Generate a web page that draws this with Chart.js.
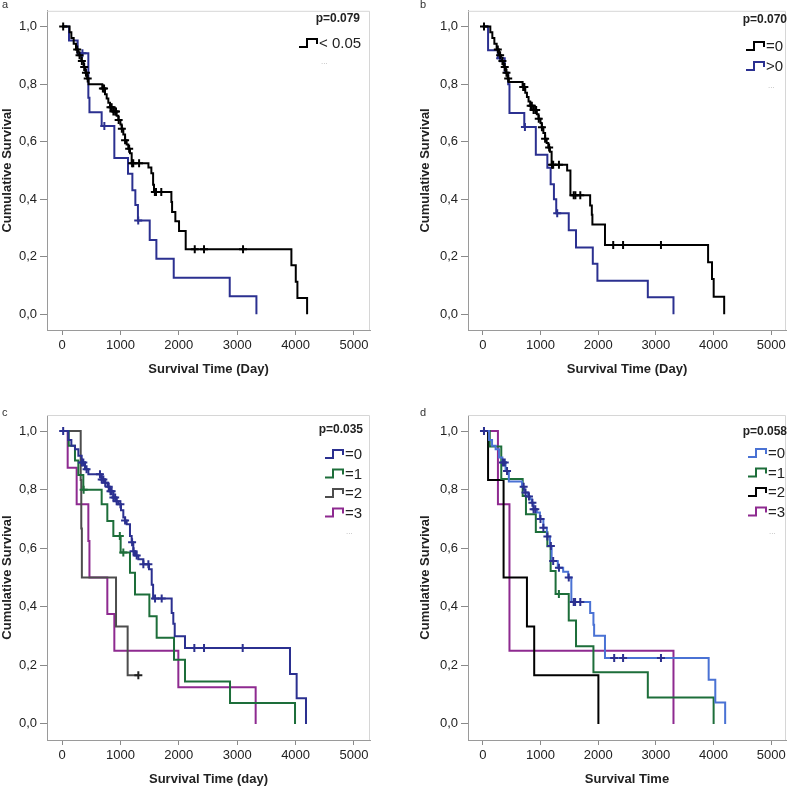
<!DOCTYPE html>
<html>
<head>
<meta charset="utf-8">
<script src="https://cdn.jsdelivr.net/npm/chart.js@4.4.1/dist/chart.umd.min.js"></script>
<style>
  body { margin: 0; background: #fff; width: 792px; height: 787px; position: relative; overflow: hidden; }
  canvas { position: absolute; }
</style>
</head>
<body>
<canvas id="chartA" width="396" height="390" style="left:0;top:0"></canvas>
<canvas id="chartB" width="396" height="390" style="left:396px;top:0"></canvas>
<canvas id="chartC" width="396" height="397" style="left:0;top:390px"></canvas>
<canvas id="chartD" width="396" height="397" style="left:396px;top:390px"></canvas>
<script>
// axis ticks
const xTicks = [0, 1000, 2000, 3000, 4000, 5000];
const yTicks = [0, 0.2, 0.4, 0.6, 0.8, 1.0];
const pValues = ['p=0.079', 'p=0.070', 'p=0.035', 'p=0.058'];

// panel a : event times (T), survival after event (S), censored times (C)
const aLabels = ['< 0.05'];
const aBlackT = [130, 160, 200, 240, 280, 330, 370, 400, 430, 455, 690, 736, 765, 793, 822, 880, 936, 965, 1000, 1022, 1050, 1080, 1107, 1135, 1164, 1193, 1480, 1530, 1560, 1575, 1873, 1885, 1941, 2004, 2118, 3928, 4003, 4031, 4197];
const aBlackS = [0.98, 0.96, 0.94, 0.92, 0.90, 0.88, 0.86, 0.84, 0.82, 0.80, 0.785, 0.765, 0.75, 0.735, 0.72, 0.705, 0.69, 0.675, 0.66, 0.645, 0.625, 0.605, 0.59, 0.575, 0.56, 0.525, 0.51, 0.49, 0.45, 0.425, 0.39, 0.355, 0.323, 0.289, 0.226, 0.17, 0.113, 0.056, 0];
const aBlackC = [20, 260, 300, 340, 380, 410, 440, 700, 720, 830, 850, 880, 910, 925, 970, 1025, 1080, 1150, 1200, 1220, 1320, 1590, 1610, 1700, 2273, 2432, 3100];
const aBlueT = [120, 268, 451, 470, 679, 896, 1130, 1205, 1256, 1300, 1502, 1616, 1913, 2872, 3329];
const aBlueS = [0.952, 0.907, 0.753, 0.702, 0.654, 0.543, 0.488, 0.431, 0.38, 0.326, 0.258, 0.193, 0.127, 0.062, 0];
const aBlueC = [350, 725, 1305];

// panel b
const bLabels = ['=0', '>0'];
const bBlackT = [130, 165, 200, 240, 280, 320, 360, 400, 430, 451, 690, 736, 765, 793, 822, 880, 936, 965, 1000, 1022, 1050, 1080, 1107, 1135, 1164, 1193, 1462, 1519, 1861, 1890, 1900, 2118, 3906, 3974, 4003, 4185];
const bBlackS = [0.98, 0.96, 0.94, 0.92, 0.90, 0.88, 0.86, 0.84, 0.82, 0.807, 0.79, 0.77, 0.755, 0.74, 0.725, 0.71, 0.695, 0.68, 0.665, 0.65, 0.63, 0.61, 0.595, 0.58, 0.565, 0.52, 0.50, 0.414, 0.378, 0.346, 0.312, 0.241, 0.181, 0.122, 0.061, 0];
const bBlackC = [20, 260, 300, 340, 380, 410, 440, 700, 720, 830, 850, 880, 910, 925, 970, 1025, 1080, 1150, 1200, 1220, 1320, 1576, 1605, 1690, 2261, 2432, 3089];
const bBlueT = [91, 262, 380, 440, 462, 719, 919, 1119, 1176, 1233, 1273, 1490, 1616, 1907, 1987, 2861, 3306];
const bBlueS = [0.918, 0.89, 0.84, 0.80, 0.70, 0.651, 0.554, 0.509, 0.452, 0.40, 0.351, 0.292, 0.232, 0.175, 0.116, 0.059, 0];
const bBlueC = [300, 730, 1290];

// panel c
const cLabels = ['=0', '=1', '=2', '=3'];
const cG0T = [108, 160, 222, 280, 337, 394, 451, 679, 736, 780, 822, 879, 930, 965, 1010, 1050, 1080, 1107, 1164, 1193, 1221, 1250, 1307, 1393, 1490, 1536, 1560, 1878, 1906, 1930, 2106, 3904, 4018, 4178];
const cG0S = [0.97, 0.95, 0.938, 0.916, 0.893, 0.87, 0.853, 0.835, 0.824, 0.81, 0.795, 0.773, 0.76, 0.75, 0.73, 0.705, 0.695, 0.682, 0.642, 0.62, 0.59, 0.575, 0.562, 0.545, 0.528, 0.475, 0.428, 0.379, 0.342, 0.299, 0.259, 0.17, 0.088, 0];
const cG0C = [20, 340, 365, 420, 650, 680, 708, 740, 800, 830, 850, 880, 910, 936, 1000, 1080, 1200, 1225, 1279, 1393, 1479, 1593, 1707, 2266, 2432, 3094];
const cG1T = [115, 222, 280, 365, 679, 776, 879, 1004, 1164, 1250, 1496, 1621, 1918, 2106, 2877, 3990];
const cG1S = [0.95, 0.90, 0.85, 0.80, 0.75, 0.693, 0.642, 0.585, 0.516, 0.442, 0.368, 0.294, 0.219, 0.145, 0.071, 0];
const cG1C = [370, 990, 1050];
const cG2T = [320, 330, 340, 925, 1124];
const cG2S = [0.833, 0.667, 0.5, 0.333, 0.166];
const cG2C = [1307];
const cG3T = [97, 251, 451, 470, 776, 896, 1992, 3316];
const cG3S = [0.875, 0.75, 0.625, 0.5, 0.375, 0.25, 0.125, 0];
const cG3C = [];

// panel d
const dLabels = ['=0', '=1', '=2', '=3'];
const dG0T = [108, 160, 222, 280, 340, 394, 451, 680, 722, 780, 822, 850, 879, 936, 990, 1050, 1110, 1164, 1193, 1300, 1393, 1480, 1535, 1861, 1918, 1930, 2118, 3916, 4031, 4202];
const dG0S = [0.97, 0.95, 0.938, 0.91, 0.893, 0.864, 0.828, 0.81, 0.79, 0.777, 0.767, 0.755, 0.733, 0.722, 0.70, 0.67, 0.64, 0.608, 0.556, 0.533, 0.52, 0.50, 0.416, 0.379, 0.339, 0.301, 0.225, 0.151, 0.073, 0];
const dG0C = [20, 350, 380, 420, 708, 740, 800, 860, 880, 910, 1000, 1050, 1120, 1180, 1220, 1320, 1490, 1576, 1600, 1690, 2278, 2432, 3089];
const dG1T = [120, 320, 691, 748, 919, 1119, 1176, 1262, 1490, 1616, 1918, 2861, 4002];
const dG1S = [0.947, 0.836, 0.778, 0.716, 0.655, 0.607, 0.522, 0.444, 0.353, 0.265, 0.176, 0.09, 0];
const dG1C = [1319];
const dG2T = [91, 360, 765, 891, 2004];
const dG2S = [0.833, 0.5, 0.333, 0.166, 0];
const dG2C = [];
const dG3T = [262, 462, 3306];
const dG3S = [0.75, 0.25, 0];
const dG3C = [];

const FONT = 'Arial, "Liberation Sans", sans-serif';
Chart.defaults.font.family = FONT;
Chart.defaults.color = '#222';

// survival value at time t (last event at or before t)
function survAt(T, S, t) {
  let s = 1;
  for (let i = 0; i < T.length; i++) {
    if (T[i] <= t) s = S[i]; else break;
  }
  return s;
}

function kmSets(groups) {
  const sets = [];
  groups.forEach(g => {
    const pts = [{x: 0, y: 1}];
    g.T.forEach((t, i) => pts.push({x: t, y: g.S[i]}));
    const lastC = g.C.length ? Math.max(...g.C) : 0;
    if (lastC > g.T[g.T.length - 1]) pts.push({x: lastC, y: g.S[g.S.length - 1]});
    sets.push({
      data: pts,
      borderColor: g.color,
      borderWidth: 2,
      stepped: 'before',
      pointRadius: 0,
      fill: false,
      order: 1
    });
    sets.push({
      data: g.C.map(t => ({x: t, y: survAt(g.T, g.S, t)})),
      showLine: false,
      pointStyle: 'cross',
      pointRadius: 4,
      pointBorderWidth: 2,
      pointBorderColor: g.cross || g.color,
      order: 0
    });
  });
  return sets;
}

// box edges, panel letter, p value and the SPSS style legend
function deco(d) {
  return {
    id: 'deco',
    afterDraw(chart) {
      const ctx = chart.ctx, ca = chart.chartArea;
      ctx.save();
      ctx.strokeStyle = '#d6d6d6';
      ctx.lineWidth = 1;
      ctx.beginPath();
      ctx.moveTo(ca.left, ca.top + 0.5);
      ctx.lineTo(ca.right - 0.5, ca.top + 0.5);
      ctx.lineTo(ca.right - 0.5, ca.bottom);
      ctx.stroke();

      ctx.fillStyle = '#333';
      ctx.textBaseline = 'middle';
      ctx.font = '11px ' + FONT;
      ctx.fillText(d.letter, d.letterX, d.letterY);

      ctx.fillStyle = '#222';
      ctx.font = 'bold 12px ' + FONT;
      ctx.textAlign = 'right';
      ctx.fillText(d.p, d.pX, d.pY);

      ctx.textAlign = 'left';
      ctx.font = '15px ' + FONT;
      d.labels.forEach((lab, i) => {
        const y = d.rowY + i * d.rowGap, gx = d.glyphX;
        ctx.strokeStyle = d.colors[i];
        ctx.lineWidth = 2;
        ctx.beginPath();
        ctx.moveTo(gx, y + 4);
        ctx.lineTo(gx + 8, y + 4);
        ctx.lineTo(gx + 8, y - 4);
        ctx.lineTo(gx + 18, y - 4);
        ctx.lineTo(gx + 18, y + 1);
        ctx.stroke();
        ctx.fillStyle = '#222';
        ctx.fillText(lab, gx + 20, y + 1);
      });
      ctx.fillStyle = '#b0b0b0';
      ctx.font = '8px ' + FONT;
      ctx.fillText('...', d.dotsX, d.dotsY);
      ctx.restore();
    }
  };
}

function makeChart(id, o) {
  new Chart(document.getElementById(id), {
    type: 'line',
    data: {datasets: kmSets(o.groups)},
    options: {
      responsive: false,
      animation: false,
      events: [],
      layout: {padding: o.pad},
      plugins: {legend: {display: false}, tooltip: {enabled: false}},
      scales: {
        x: {
          type: 'linear',
          min: -257,
          max: o.xMax,
          afterBuildTicks: s => { s.ticks = xTicks.map(v => ({value: v})); },
          afterFit: s => { s.height = o.xHeight; },
          ticks: {font: {size: 13}, color: '#222', padding: 3, maxRotation: 0, callback: v => String(v)},
          grid: {drawOnChartArea: false, drawTicks: true, tickLength: 5, color: '#8a8a8a'},
          border: {display: true, color: '#9a9a9a'},
          title: {display: true, text: o.xTitle, font: {size: 13, weight: 'bold'}, color: '#222', padding: {top: 0, bottom: o.xTitlePad}}
        },
        y: {
          min: -0.055,
          max: 1.055,
          afterBuildTicks: s => { s.ticks = yTicks.map(v => ({value: v})); },
          afterFit: s => { s.width = o.yWidth; },
          ticks: {font: {size: 13}, color: '#222', padding: 3, callback: v => v.toFixed(1).replace('.', ',')},
          grid: {drawOnChartArea: false, drawTicks: true, tickLength: 7, color: '#8a8a8a'},
          border: {display: true, color: '#9a9a9a'},
          title: {display: true, text: 'Cumulative Survival', font: {size: 13, weight: 'bold'}, color: '#222', padding: {top: 0, bottom: 0}}
        }
      }
    },
    plugins: [deco(o.deco)]
  });
}

const NAVY = '#2b3090', GREEN = '#1d6e3a', PURPLE = '#8e2a90';

makeChart('chartA', {
  pad: {left: 0, top: 5, right: 26, bottom: 0}, yWidth: 47, xHeight: 60, xMax: 5274,
  xTitle: 'Survival Time (Day)', xTitlePad: 13,
  groups: [
    {T: aBlackT, S: aBlackS, C: aBlackC, color: '#000'},
    {T: aBlueT, S: aBlueS, C: aBlueC, color: NAVY}
  ],
  deco: {letter: 'a', letterX: 2, letterY: 5, p: pValues[0], pX: 360, pY: 19,
    labels: aLabels, colors: ['#000'], glyphX: 299, rowY: 43, rowGap: 20, dotsX: 321, dotsY: 62}
});

makeChart('chartB', {
  pad: {left: 22, top: 5, right: 2, bottom: 0}, yWidth: 50, xHeight: 60, xMax: 5257,
  xTitle: 'Survival Time (Day)', xTitlePad: 13,
  groups: [
    {T: bBlackT, S: bBlackS, C: bBlackC, color: '#000'},
    {T: bBlueT, S: bBlueS, C: bBlueC, color: NAVY}
  ],
  deco: {letter: 'b', letterX: 24, letterY: 5, p: pValues[1], pX: 391, pY: 20,
    labels: bLabels, colors: ['#000', NAVY], glyphX: 350, rowY: 46, rowGap: 20, dotsX: 372, dotsY: 86}
});

makeChart('chartC', {
  pad: {left: 0, top: 25, right: 26, bottom: 0}, yWidth: 47, xHeight: 47, xMax: 5274,
  xTitle: 'Survival Time (day)', xTitlePad: 0,
  groups: [
    {T: cG0T, S: cG0S, C: cG0C, color: NAVY},
    {T: cG1T, S: cG1S, C: cG1C, color: GREEN},
    {T: cG2T, S: cG2S, C: cG2C, color: '#4d4d4d', cross: '#222'},
    {T: cG3T, S: cG3S, C: cG3C, color: PURPLE}
  ],
  deco: {letter: 'c', letterX: 2, letterY: 23, p: pValues[2], pX: 363, pY: 40,
    labels: cLabels, colors: [NAVY, GREEN, '#4d4d4d', PURPLE], glyphX: 325, rowY: 64, rowGap: 19.5, dotsX: 346, dotsY: 142}
});

makeChart('chartD', {
  pad: {left: 22, top: 25, right: 2, bottom: 0}, yWidth: 50, xHeight: 47, xMax: 5257,
  xTitle: 'Survival Time', xTitlePad: 0,
  groups: [
    {T: dG0T, S: dG0S, C: dG0C, color: '#4a72d4', cross: NAVY},
    {T: dG1T, S: dG1S, C: dG1C, color: GREEN},
    {T: dG2T, S: dG2S, C: dG2C, color: '#000'},
    {T: dG3T, S: dG3S, C: dG3C, color: PURPLE}
  ],
  deco: {letter: 'd', letterX: 24, letterY: 23, p: pValues[3], pX: 391, pY: 42,
    labels: dLabels, colors: ['#4a72d4', GREEN, '#000', PURPLE], glyphX: 352, rowY: 63, rowGap: 19.5, dotsX: 373, dotsY: 142}
});
</script>
</body>
</html>
